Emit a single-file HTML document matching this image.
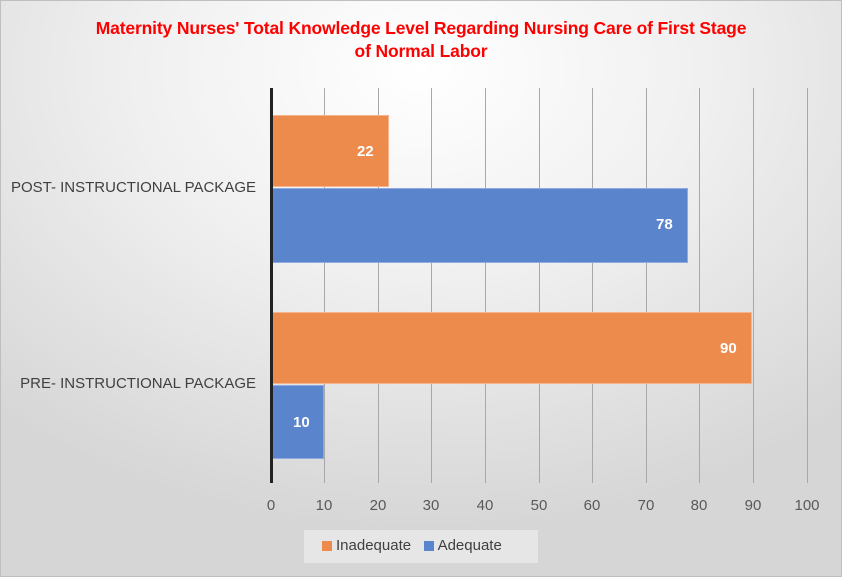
<!DOCTYPE html>
<html><head><style>
body{margin:0;width:842px;height:577px;overflow:hidden;font-family:"Liberation Sans",Calibri,sans-serif;}
.wrap{position:absolute;left:0;top:0;width:840px;height:575px;border:1px solid #bfbfbf;background:radial-gradient(ellipse 75% 80% at 50% 12%,#ffffff 0%,#f0f0f0 45%,#d6d6d6 100%);}
.title{position:absolute;left:0;width:842px;top:17px;text-align:center;color:#ff0000;font-weight:bold;font-size:17.5px;line-height:23px;letter-spacing:-0.15px;}
.grid{position:absolute;top:88px;height:395px;width:1px;background:#a8a8a8;}
.tick{position:absolute;top:497px;width:40px;margin-left:-20px;text-align:center;font-size:15px;color:#595959;}
.bar{position:absolute;left:272px;}
.o{background:#ed8b4c;border:1px solid #f4b58c;box-sizing:border-box;}
.b{background:#5a84cc;border:1px solid #8eaadf;box-sizing:border-box;}
.lab{position:absolute;color:#fff;font-weight:bold;font-size:15px;}
.cat{position:absolute;right:586px;font-size:15px;color:#404040;white-space:nowrap;}
.legend{position:absolute;left:304px;top:530px;width:234px;height:33px;background:#e6e6e6;font-size:15px;color:#404040;}
.sw{display:inline-block;width:10px;height:10px;vertical-align:middle;margin-right:4px;}
</style></head><body><div class="wrap"></div>
<div class="title">Maternity Nurses' Total Knowledge Level Regarding Nursing Care of First Stage<br>of Normal Labor</div>
<div class="grid" style="left:324px"></div><div class="grid" style="left:378px"></div><div class="grid" style="left:431px"></div><div class="grid" style="left:485px"></div><div class="grid" style="left:539px"></div><div class="grid" style="left:592px"></div><div class="grid" style="left:646px"></div><div class="grid" style="left:699px"></div><div class="grid" style="left:753px"></div><div class="grid" style="left:807px"></div>
<div class="bar o" style="top:115px;height:72px;width:117px"></div>
<div class="bar b" style="top:188px;height:75px;width:416px"></div>
<div class="bar o" style="top:312px;height:72px;width:480px"></div>
<div class="bar b" style="top:385px;height:74px;width:52px"></div>
<div style="position:absolute;left:270px;top:88px;width:3px;height:395px;background:#222"></div>
<div class="lab" style="left:357px;top:143px">22</div>
<div class="lab" style="left:656px;top:216px">78</div>
<div class="lab" style="left:720px;top:340px">90</div>
<div class="lab" style="left:293px;top:414px">10</div>
<div class="cat" style="top:179px">POST- INSTRUCTIONAL PACKAGE</div>
<div class="cat" style="top:375px">PRE- INSTRUCTIONAL PACKAGE</div>
<div class="tick" style="left:271px">0</div><div class="tick" style="left:324px">10</div><div class="tick" style="left:378px">20</div><div class="tick" style="left:431px">30</div><div class="tick" style="left:485px">40</div><div class="tick" style="left:539px">50</div><div class="tick" style="left:592px">60</div><div class="tick" style="left:646px">70</div><div class="tick" style="left:699px">80</div><div class="tick" style="left:753px">90</div><div class="tick" style="left:807px">100</div>
<div class="legend"><div style="position:absolute;left:18px;top:7px;white-space:nowrap"><span class="sw" style="background:#ed8b4c"></span>Inadequate&nbsp;&nbsp;&nbsp;<span class="sw" style="background:#5a84cc"></span>Adequate</div></div>
</body></html>
